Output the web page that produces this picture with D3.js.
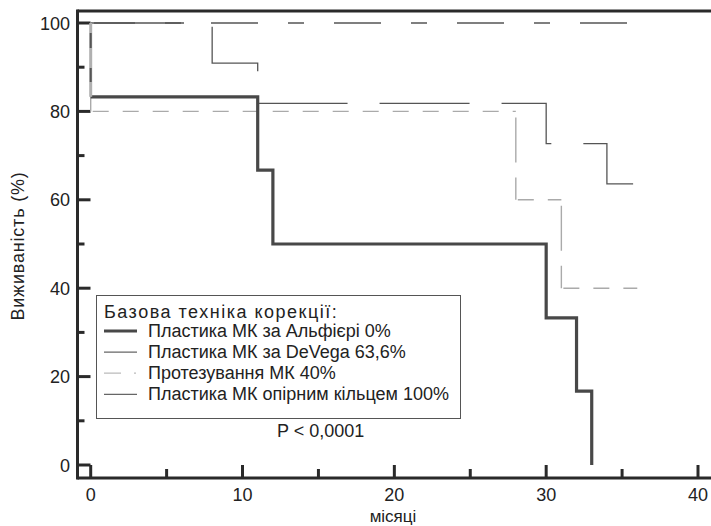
<!DOCTYPE html>
<html><head><meta charset="utf-8">
<script src="https://cdn.jsdelivr.net/npm/d3@7"></script>
<style>
body{margin:0;background:#fff;}
svg text{font-family:"Liberation Sans",Arial,sans-serif;fill:#222;}
</style></head>
<body><svg id="c" width="711" height="526"></svg>
<script>
// ---- data ----
const alfieriTime = [0, 0, 11, 12, 30, 32, 33];
const alfieriSurv = [100, 83.3, 66.7, 50, 33.3, 16.7, 0];
const devegaTime = [0, 8, 11, 30, 34, 36];
const devegaSurv = [100, 90.9, 81.8, 72.7, 63.6, 63.6];
const protezTime = [0, 0, 28, 31, 36];
const protezSurv = [100, 80, 60, 40, 40];
const ringTime = [0, 36];
const ringSurv = [100, 100];
const xTicksMajor = [0, 10, 20, 30, 40];
const xTicksMinor = [5, 15, 25, 35];
const yTicksMajor = [0, 20, 40, 60, 80, 100];
const yTicksMinor = [10, 30, 50, 70, 90];
const legendTitle = "Базова техніка корекції:";
const legendLabels = ["Пластика МК за Альфієрі 0%", "Пластика МК за DeVega 63,6%", "Протезування МК 40%", "Пластика МК опірним кільцем 100%"];
const pText = "P < 0,0001";
const xTitle = "місяці";
const yTitle = "Виживаність (%)";

const svg = d3.select("#c");
const x = d3.scaleLinear().domain([0, 40]).range([90.7, 698]);
const y = d3.scaleLinear().domain([0, 100]).range([465, 23]);
const axisX = 77.5, axisY = 478, topY = 11;

const pts = (t, s) => t.map((v, i) => [v, s[i]]);
const line = d3.line().x(d => x(d[0])).y(d => y(d[1])).curve(d3.curveStepAfter);

// frame
svg.append("line").attr("x1", axisX).attr("x2", 711).attr("y1", topY).attr("y2", topY).attr("stroke", "#2a2a2a").attr("stroke-width", 3);
svg.append("line").attr("x1", axisX).attr("x2", 711).attr("y1", axisY).attr("y2", axisY).attr("stroke", "#2a2a2a").attr("stroke-width", 3);
svg.append("line").attr("x1", axisX).attr("x2", axisX).attr("y1", topY - 1.5).attr("y2", axisY + 1.5).attr("stroke", "#2a2a2a").attr("stroke-width", 3);

// y ticks
yTicksMajor.forEach(v => {
  svg.append("line").attr("x1", axisX).attr("x2", axisX + 13).attr("y1", y(v)).attr("y2", y(v)).attr("stroke", "#2a2a2a").attr("stroke-width", 3);
  svg.append("text").attr("x", 70).attr("y", y(v) + 6.5).attr("text-anchor", "end").attr("font-size", 18).text(v);
});
yTicksMinor.forEach(v => {
  svg.append("line").attr("x1", axisX).attr("x2", axisX + 7).attr("y1", y(v)).attr("y2", y(v)).attr("stroke", "#2a2a2a").attr("stroke-width", 3);
});
// x ticks
xTicksMajor.forEach(v => {
  svg.append("line").attr("x1", x(v)).attr("x2", x(v)).attr("y1", axisY).attr("y2", axisY - 13).attr("stroke", "#2a2a2a").attr("stroke-width", 3);
  svg.append("text").attr("x", x(v)).attr("y", 501).attr("text-anchor", "middle").attr("font-size", 18).text(v);
});
xTicksMinor.forEach(v => {
  svg.append("line").attr("x1", x(v)).attr("x2", x(v)).attr("y1", axisY).attr("y2", axisY - 9).attr("stroke", "#2a2a2a").attr("stroke-width", 3);
});

// axis titles
svg.append("text").attr("x", 393).attr("y", 522).attr("text-anchor", "middle").attr("font-size", 17).text(xTitle);
svg.append("text").attr("transform", "translate(24,246) rotate(-90)").attr("text-anchor", "middle").attr("font-size", 18).attr("letter-spacing", 0.8).text(yTitle);

// Протезування: horizontal & vertical segments with different dash
const pz = pts(protezTime, protezSurv);
for (let i = 1; i < pz.length; i++) {
  const [t0, s0] = pz[i - 1], [t1, s1] = pz[i];
  if (t1 > t0) svg.append("line").attr("x1", x(t0)).attr("x2", x(t1)).attr("y1", y(s0)).attr("y2", y(s0))
    .attr("stroke", "#aaa").attr("stroke-width", 1.4).attr("stroke-dasharray", "16,14").attr("stroke-dashoffset", -2);
  if (s1 !== s0) svg.append("line").attr("x1", x(t1)).attr("x2", x(t1)).attr("y1", y(s0)).attr("y2", y(s1))
    .attr("stroke", "#aaa").attr("stroke-width", 1.4).attr("stroke-dasharray", "45,15").attr("stroke-dashoffset", -6);
}

// ring (100%)
svg.append("path").attr("d", line(pts(ringTime, ringSurv))).attr("fill", "none")
  .attr("stroke", "#555").attr("stroke-width", 1.3).attr("stroke-dasharray", "47,30,16,30").attr("stroke-dashoffset", 2.7);

// DeVega
svg.append("path").attr("d", line(pts(devegaTime, devegaSurv))).attr("fill", "none")
  .attr("stroke", "#555").attr("stroke-width", 1.3).attr("stroke-dasharray", "90,32").attr("stroke-dashoffset", 118.7);

// Alfieri
const al = pts(alfieriTime, alfieriSurv);
svg.append("path").attr("d", line(al.slice(1))).attr("fill", "none")
  .attr("stroke", "#484848").attr("stroke-width", 3.2);
svg.append("line").attr("x1", x(al[0][0])).attr("x2", x(al[1][0])).attr("y1", y(al[0][1])).attr("y2", y(al[1][1]))
  .attr("stroke", "#b0b0b0").attr("stroke-width", 3);
svg.append("line").attr("x1", x(al[0][0])).attr("x2", x(al[1][0])).attr("y1", y(al[0][1])).attr("y2", y(al[1][1]))
  .attr("stroke", "#555").attr("stroke-width", 2).attr("stroke-dasharray", "0,10,15,20,14,100");

// legend
const lg = svg.append("g");
lg.append("rect").attr("x", 96.5).attr("y", 295.5).attr("width", 364).attr("height", 123).attr("fill", "#fff").attr("stroke", "#555").attr("stroke-width", 1);
lg.append("text").attr("x", 104).attr("y", 318).attr("font-size", 18).attr("letter-spacing", 1.5).text(legendTitle);
const styles = [
  {c: "#484848", w: 3, d: null},
  {c: "#666", w: 1.3, d: null},
  {c: "#bbb", w: 1.3, d: "17,13,2,20"},
  {c: "#666", w: 1.3, d: null}
];
legendLabels.forEach((lab, i) => {
  const yy = 331 + i * 21.1;
  const st = styles[i];
  const l = lg.append("line").attr("x1", 104).attr("x2", 137).attr("y1", yy).attr("y2", yy).attr("stroke", st.c).attr("stroke-width", st.w);
  if (st.d) l.attr("stroke-dasharray", st.d);
  lg.append("text").attr("x", 148).attr("y", yy + 6).attr("font-size", 18).text(lab);
});
svg.append("text").attr("x", 277).attr("y", 437).attr("font-size", 18).text(pText);
</script></body></html>
